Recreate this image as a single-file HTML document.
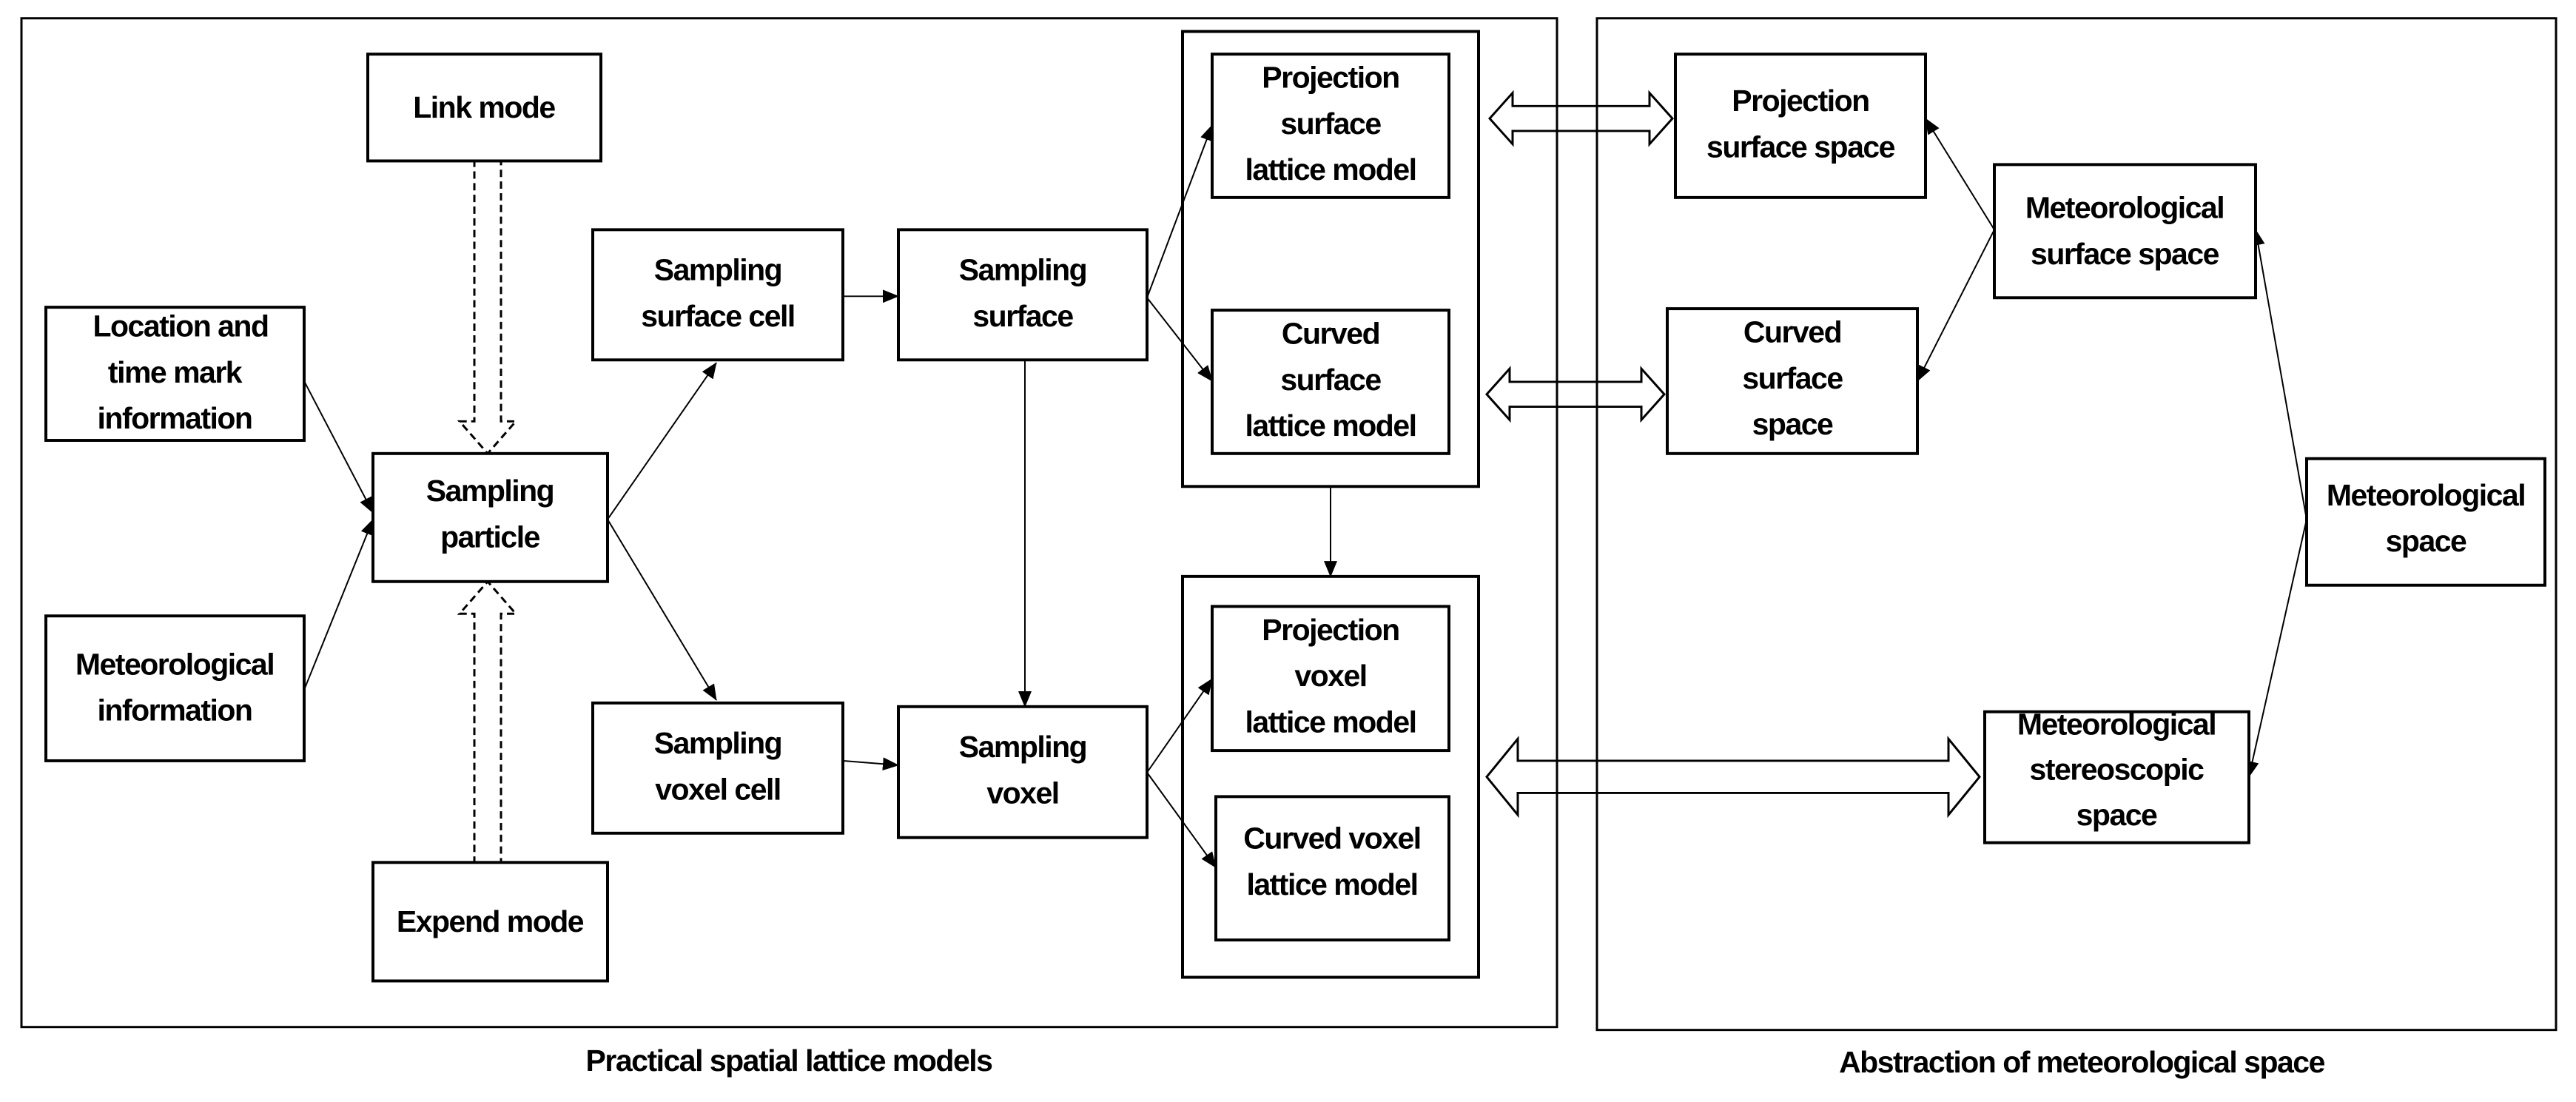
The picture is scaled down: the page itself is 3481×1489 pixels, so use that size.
<!DOCTYPE html>
<html><head><meta charset="utf-8"><style>
html,body{margin:0;padding:0;background:#fff;}
svg{display:block}
text{font-family:"Liberation Sans",sans-serif;font-weight:bold;font-size:41px;fill:#000;text-anchor:middle;letter-spacing:-1.5px}
.b{fill:#fff;stroke:#000;stroke-width:4}
.l{stroke:#000;stroke-width:2;fill:none}
</style></head><body>
<svg width="3481" height="1489" viewBox="0 0 3481 1489" xmlns="http://www.w3.org/2000/svg">
<defs>
<marker id="A" markerWidth="22" markerHeight="18" refX="21" refY="9" orient="auto" markerUnits="userSpaceOnUse">
<path d="M0,0 L22,9 L0,18 z" fill="#000"/>
</marker>
</defs>
<g transform="scale(1,0.9884)">
<rect x="29" y="25" width="2075" height="1379" fill="none" stroke="#000" stroke-width="3"/>
<rect x="2158" y="25" width="1296" height="1383" fill="none" stroke="#000" stroke-width="3"/>
<rect class="b" x="1598" y="43" width="400" height="622"/>
<rect class="b" x="1598" y="788" width="400" height="548"/>

<g class="l">
<line x1="411" y1="521" x2="504" y2="701" marker-end="url(#A)"/>
<line x1="411" y1="943" x2="504" y2="710" marker-end="url(#A)"/>
<line x1="821" y1="710" x2="968" y2="496" marker-end="url(#A)"/>
<line x1="821" y1="710" x2="968" y2="957" marker-end="url(#A)"/>
<line x1="1139" y1="405" x2="1214" y2="405" marker-end="url(#A)"/>
<line x1="1139" y1="1040" x2="1214" y2="1046" marker-end="url(#A)"/>
<line x1="1550" y1="407" x2="1638" y2="171" marker-end="url(#A)"/>
<line x1="1550" y1="407" x2="1638" y2="521" marker-end="url(#A)"/>
<line x1="1385" y1="492" x2="1385" y2="966" marker-end="url(#A)"/>
<line x1="1798" y1="665" x2="1798" y2="788" marker-end="url(#A)"/>
<line x1="1550" y1="1056" x2="1638" y2="928" marker-end="url(#A)"/>
<line x1="1550" y1="1056" x2="1643" y2="1186" marker-end="url(#A)"/>
<line x1="2695" y1="314" x2="2602" y2="162" marker-end="url(#A)"/>
<line x1="2695" y1="314" x2="2591" y2="521" marker-end="url(#A)"/>
<line x1="3117" y1="710" x2="3048" y2="314" marker-end="url(#A)"/>
<line x1="3117" y1="710" x2="3039" y2="1062" marker-end="url(#A)"/>
</g>

<path d="M2013,162 L2044,127 L2044,145 L2229,145 L2229,127 L2260,162 L2229,197 L2229,179 L2044,179 L2044,197 Z" fill="none" stroke="#000" stroke-width="3"/>
<path d="M2009,539 L2040,504 L2040,522 L2218,522 L2218,504 L2249,539 L2218,574 L2218,556 L2040,556 L2040,574 Z" fill="none" stroke="#000" stroke-width="3"/>
<path d="M2009,1062 L2051,1010 L2051,1040 L2633,1040 L2633,1010 L2675,1062 L2633,1114 L2633,1084 L2051,1084 L2051,1114 Z" fill="none" stroke="#000" stroke-width="3"/>

<path d="M641,220 L677,220 L677,576 L697,576 L659,620 L621,576 L641,576 Z" fill="#fff" stroke="#000" stroke-width="3" stroke-dasharray="10,6"/>
<path d="M641,1179 L677,1179 L677,839 L697,839 L659,795 L621,839 L641,839 Z" fill="#fff" stroke="#000" stroke-width="3" stroke-dasharray="10,6"/>

<rect class="b" x="497" y="74" width="315" height="146"/>
<text x="654" y="161">Link mode</text>
<rect class="b" x="62" y="420" width="349" height="182"/>
<text x="244" y="460">Location and</text><text x="236" y="523">time mark</text><text x="236" y="586">information</text>
<rect class="b" x="62" y="842" width="349" height="198"/>
<text x="236" y="922">Meteorological</text><text x="236" y="985">information</text>
<rect class="b" x="504" y="620" width="317" height="175"/>
<text x="662" y="685">Sampling</text><text x="662" y="748">particle</text>
<rect class="b" x="504" y="1179" width="317" height="162"/>
<text x="662" y="1274">Expend mode</text>
<rect class="b" x="801" y="314" width="338" height="178"/>
<text x="970" y="383">Sampling</text><text x="970" y="446">surface cell</text>
<rect class="b" x="1214" y="314" width="336" height="178"/>
<text x="1382" y="383">Sampling</text><text x="1382" y="446">surface</text>
<rect class="b" x="801" y="961" width="338" height="178"/>
<text x="970" y="1030">Sampling</text><text x="970" y="1093">voxel cell</text>
<rect class="b" x="1214" y="966" width="336" height="179"/>
<text x="1382" y="1035">Sampling</text><text x="1382" y="1098">voxel</text>
<rect class="b" x="1638" y="74" width="320" height="196"/>
<text x="1798" y="120">Projection</text><text x="1798" y="183">surface</text><text x="1798" y="246">lattice model</text>
<rect class="b" x="1638" y="424" width="320" height="196"/>
<text x="1798" y="470">Curved</text><text x="1798" y="533">surface</text><text x="1798" y="596">lattice model</text>
<rect class="b" x="1638" y="829" width="320" height="197"/>
<text x="1798" y="875">Projection</text><text x="1798" y="938">voxel</text><text x="1798" y="1001">lattice model</text>
<rect class="b" x="1643" y="1089" width="315" height="196"/>
<text x="1800" y="1160">Curved voxel</text><text x="1800" y="1223">lattice model</text>
<rect class="b" x="2264" y="74" width="338" height="196"/>
<text x="2433" y="152">Projection</text><text x="2433" y="215">surface space</text>
<rect class="b" x="2253" y="422" width="338" height="198"/>
<text x="2422" y="468">Curved</text><text x="2422" y="531">surface</text><text x="2422" y="594">space</text>
<rect class="b" x="2695" y="225" width="353" height="182"/>
<text x="2871" y="298">Meteorological</text><text x="2871" y="361">surface space</text>
<rect class="b" x="3117" y="627" width="322" height="173"/>
<text x="3278" y="691">Meteorological</text><text x="3278" y="754">space</text>
<rect class="b" x="2682" y="973" width="357" height="179"/>
<text x="2860" y="1004">Meteorological</text><text x="2860" y="1066">stereoscopic</text><text x="2860" y="1128">space</text>

<text x="1066" y="1464">Practical spatial lattice models</text>
<text x="2813" y="1466">Abstraction  of meteorological space</text>
</g>
</svg>
</body></html>
